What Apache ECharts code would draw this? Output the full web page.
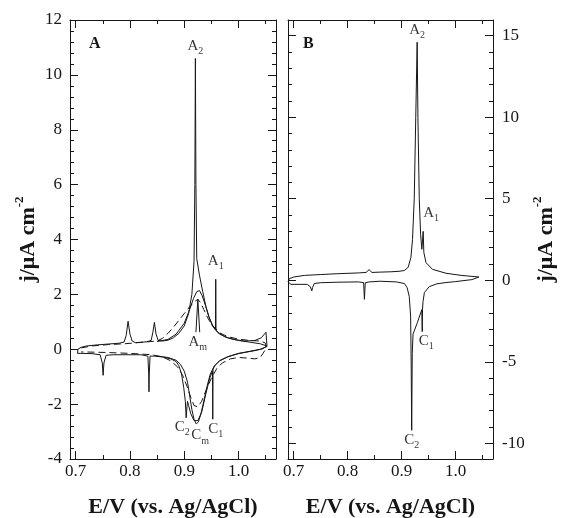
<!DOCTYPE html>
<html>
<head>
<meta charset="utf-8">
<script src="https://cdn.jsdelivr.net/npm/echarts@6/dist/echarts.min.js"></script>
<style>
html, body { margin: 0; padding: 0; background: #fff; }
#chart { width: 563px; height: 518px; }
</style>
</head>
<body>
<div id="chart"></div>
<script>
// ---- Tick positions ----
const xMajorTicks = [0.7, 0.8, 0.9, 1.0];
const xMinorTicks = [0.75, 0.85, 0.95, 1.05];
const bMajorTicks = [-10, -5, 0, 5, 10, 15];
const bMinorTicks = [-10, -9, -8, -7, -6, -5, -4, -3, -2, -1, 0, 1, 2, 3, 4, 5, 6, 7, 8, 9, 10, 11, 12, 13, 14, 15];

// ---- Panel A: voltammogram with sharp spikes (solid) ----
const aSharp = [
  [0.7035, -0.15], [0.704, 0.0], [0.71, 0.07], [0.72, 0.12], [0.74, 0.16], [0.76, 0.19], [0.78, 0.22],
  [0.789, 0.26], [0.793, 0.5], [0.7965, 1.02], [0.800, 0.55], [0.804, 0.3], [0.81, 0.24], [0.83, 0.27],
  [0.839, 0.32], [0.842, 0.6], [0.845, 0.98], [0.848, 0.55], [0.852, 0.32], [0.86, 0.3], [0.87, 0.33],
  [0.88, 0.42], [0.89, 0.58], [0.90, 0.85], [0.908, 1.3], [0.914, 2.0], [0.918, 3.2], [0.9195, 6],
  [0.9205, 10.6], [0.9215, 6], [0.923, 3.3], [0.928, 2.7], [0.934, 2.1], [0.94, 1.55], [0.946, 1.15],
  [0.952, 0.85], [0.9575, 0.7], [0.958, 2.55], [0.9585, 0.68], [0.965, 0.55], [0.98, 0.42], [1.0, 0.32],
  [1.02, 0.26], [1.04, 0.2], [1.052, 0.12],
  [1.045, 0.02], [1.03, -0.05], [1.0, -0.15], [0.98, -0.28], [0.965, -0.42], [0.957, -0.58],
  [0.953, -0.72], [0.9525, -2.55], [0.952, -0.8], [0.947, -1.05], [0.94, -1.6], [0.932, -2.3],
  [0.925, -2.6], [0.918, -2.6], [0.912, -2.35], [0.908, -2.05], [0.906, -1.9], [0.905, -2.1],
  [0.9035, -2.5], [0.902, -1.9], [0.899, -1.4], [0.895, -0.9], [0.89, -0.6], [0.885, -0.45],
  [0.875, -0.35], [0.86, -0.28], [0.845, -0.25], [0.837, -0.25], [0.8355, -0.9], [0.835, -1.55],
  [0.8345, -0.9], [0.833, -0.25], [0.82, -0.2], [0.80, -0.2], [0.77, -0.2], [0.756, -0.22],
  [0.752, -0.5], [0.7505, -0.95], [0.749, -0.5], [0.745, -0.2], [0.73, -0.16], [0.71, -0.15], [0.7035, -0.15]
];

// ---- Panel A: broad solid voltammogram (A_m / C_m) ----
const aBroad = [
  [0.85, 0.28], [0.87, 0.36], [0.885, 0.55], [0.90, 0.95], [0.91, 1.45], [0.917, 1.85], [0.923, 2.1],
  [0.928, 2.14], [0.933, 1.95], [0.939, 1.6], [0.945, 1.2], [0.952, 0.88], [0.962, 0.62], [0.975, 0.45],
  [0.99, 0.36], [1.01, 0.3], [1.03, 0.32], [1.042, 0.42], [1.0505, 0.62], [1.052, 0.66], [1.0525, 0.1],
  [1.04, 0.0], [1.02, -0.08], [1.0, -0.16], [0.98, -0.27], [0.965, -0.42], [0.955, -0.62],
  [0.948, -0.9], [0.942, -1.35], [0.936, -1.9], [0.93, -2.4], [0.926, -2.65], [0.922, -2.72],
  [0.918, -2.55], [0.914, -2.2], [0.91, -1.7], [0.906, -1.2], [0.90, -0.8], [0.893, -0.55],
  [0.885, -0.4], [0.87, -0.3], [0.85, -0.25]
];

// ---- Panel A: dashed voltammogram ----
const aDashed = [
  [0.71, 0.05], [0.73, 0.12], [0.76, 0.17], [0.79, 0.2], [0.82, 0.25], [0.85, 0.3], [0.86, 0.4],
  [0.87, 0.58], [0.88, 0.8], [0.89, 1.05], [0.90, 1.3], [0.91, 1.55], [0.918, 1.72], [0.925, 1.82],
  [0.93, 1.7], [0.936, 1.45], [0.943, 1.15], [0.952, 0.85], [0.965, 0.6], [0.98, 0.46], [1.0, 0.37],
  [1.02, 0.32], [1.04, 0.3], [1.05, 0.22],
  [1.05, 0.0], [1.045, -0.15], [1.04, -0.3], [1.03, -0.35], [1.015, -0.32], [1.0, -0.3],
  [0.985, -0.35], [0.97, -0.5], [0.96, -0.7], [0.95, -1.05], [0.94, -1.5], [0.932, -1.9],
  [0.925, -2.1], [0.918, -2.05], [0.912, -1.75], [0.905, -1.35], [0.897, -0.95], [0.888, -0.65],
  [0.875, -0.42], [0.86, -0.28], [0.84, -0.2], [0.80, -0.15], [0.76, -0.12], [0.72, -0.1], [0.71, -0.1]
];

// ---- Panel A: peak markers ----
const aPeaks = [
  { name: 'A2', value: [0.9205, 10.6], side: 'top' },
  { name: 'A1', value: [0.958, 2.55], side: 'top' },
  { name: 'Am', value: [0.925, 0.62], side: 'bottom' },
  { name: 'C2', value: [0.9035, -2.5], side: 'bottom' },
  { name: 'Cm', value: [0.922, -2.72], side: 'bottom' },
  { name: 'C1', value: [0.9525, -2.55], side: 'bottom' }
];
// pointer from the A_m label up to the dashed peak
const amPointer = [[0.9215, 0.62], [0.925, 1.82], [0.9285, 0.62]];

// ---- Panel B: voltammogram ----
const bCurve = [
  [0.6895, -0.1], [0.692, 0.1], [0.70, 0.2], [0.72, 0.3], [0.75, 0.35], [0.78, 0.4], [0.82, 0.45],
  [0.834, 0.48], [0.8395, 0.65], [0.845, 0.48], [0.86, 0.5], [0.88, 0.52], [0.895, 0.55], [0.905, 0.6],
  [0.912, 0.8], [0.917, 1.4], [0.92, 2.5], [0.9232, 5], [0.926, 10], [0.9286, 14.6], [0.930, 10],
  [0.9325, 5], [0.935, 2.8], [0.9373, 1.9], [0.9385, 2.4], [0.9397, 3.0], [0.941, 1.7], [0.945, 1.08],
  [0.957, 0.67], [0.982, 0.43], [1.01, 0.3], [1.043, 0.2],
  [1.03, 0.04], [1.0, -0.08], [0.982, -0.14], [0.965, -0.22], [0.951, -0.39], [0.942, -0.75],
  [0.9395, -1.3], [0.9385, -1.78], [0.938, -3.15], [0.9372, -1.8], [0.929, -2.6], [0.921, -3.3],
  [0.9195, -4.5], [0.9185, -9.2], [0.9175, -5], [0.9165, -2.2], [0.914, -1.0], [0.91, -0.45],
  [0.905, -0.2], [0.89, -0.1], [0.86, -0.06], [0.84, -0.1], [0.8325, -0.15], [0.831, -1.17],
  [0.8295, -0.15], [0.82, -0.1], [0.78, -0.12], [0.75, -0.15], [0.738, -0.2], [0.735, -0.45],
  [0.7335, -0.65], [0.731, -0.4], [0.725, -0.25], [0.71, -0.25], [0.695, -0.25], [0.6895, -0.1]
];
const bPeaks = [
  { name: 'A2', value: [0.9286, 14.6], side: 'top' },
  { name: 'A1', value: [0.9397, 3.0], side: 'top' },
  { name: 'C1', value: [0.938, -3.15], side: 'bottom' },
  { name: 'C2', value: [0.9185, -9.2], side: 'bottom' }
];

const SERIF = '"Liberation Serif", "DejaVu Serif", serif';
const INK = '#161616';
const X_MIN = 0.6895, X_MAX = 1.069;

function xAxisSet(gridIndex, withLabel) {
  const base = { type: 'value', gridIndex, min: X_MIN, max: X_MAX, splitLine: { show: false } };
  const line = { show: true, onZero: false, lineStyle: { color: INK, width: 1 } };
  const major = {
    ...base, position: 'bottom', axisLine: line,
    axisTick: { show: true, inside: true, length: 8, customValues: xMajorTicks, lineStyle: { color: INK } },
    axisLabel: {
      show: withLabel, customValues: xMajorTicks, margin: 4,
      formatter: v => v.toFixed(1), fontFamily: SERIF, fontSize: 17, color: INK
    }
  };
  if (withLabel) {
    Object.assign(major, {
      name: 'E/V (vs. Ag/AgCl)', nameLocation: 'middle', nameGap: 37,
      nameTextStyle: { fontFamily: SERIF, fontSize: 22, fontWeight: 'bold', color: INK }
    });
  }
  const minor = {
    ...base, position: 'bottom', axisLine: { show: false, onZero: false },
    axisTick: { show: true, inside: true, length: 4, customValues: xMinorTicks, lineStyle: { color: INK } },
    axisLabel: { show: false, customValues: xMinorTicks }
  };
  const topMajor = { ...major, position: 'top', name: '', axisLabel: { show: false, customValues: xMajorTicks } };
  const topMinor = { ...minor, position: 'top' };
  return [major, minor, topMajor, topMinor];
}

const yName = {
  name: '{b|j/μA cm}{sup|-2}', nameLocation: 'middle', nameRotate: 90,
  nameTextStyle: {
    color: INK,
    rich: {
      b: { fontFamily: SERIF, fontSize: 22, fontWeight: 'bold', lineHeight: 26, verticalAlign: 'bottom', color: INK },
      sup: { fontFamily: SERIF, fontSize: 13, fontWeight: 'bold', lineHeight: 26, verticalAlign: 'top', color: INK }
    }
  }
};

const yAxes = [
  {
    type: 'value', gridIndex: 0, position: 'left', min: -4, max: 12, interval: 2,
    splitLine: { show: false },
    axisLine: { show: true, onZero: false, lineStyle: { color: INK } },
    axisTick: { inside: true, length: 8, lineStyle: { color: INK } },
    minorTick: { show: true, splitNumber: 5, length: 4, lineStyle: { color: INK } },
    axisLabel: { fontFamily: SERIF, fontSize: 17, color: INK, margin: 8 },
    ...yName, nameGap: 31
  },
  {
    type: 'value', gridIndex: 0, position: 'right', min: -4, max: 12, interval: 2,
    splitLine: { show: false },
    axisLine: { show: true, onZero: false, lineStyle: { color: INK } },
    axisTick: { inside: true, length: 8, lineStyle: { color: INK } },
    minorTick: { show: true, splitNumber: 5, length: 4, lineStyle: { color: INK } },
    axisLabel: { show: false }
  }
];
const B_MIN = -10.96, B_MAX = 15.96;
['left', 'right'].forEach(pos => {
  const major = {
    type: 'value', gridIndex: 1, position: pos, min: B_MIN, max: B_MAX, splitLine: { show: false },
    axisLine: { show: true, onZero: false, lineStyle: { color: INK } },
    axisTick: { inside: true, length: 8, customValues: bMajorTicks, lineStyle: { color: INK } },
    axisLabel: {
      show: pos === 'right', customValues: bMajorTicks, fontFamily: SERIF, fontSize: 17, color: INK, margin: 9
    }
  };
  if (pos === 'right') Object.assign(major, yName, { nameGap: 38 });
  const minor = {
    type: 'value', gridIndex: 1, position: pos, min: B_MIN, max: B_MAX, splitLine: { show: false },
    axisLine: { show: false, onZero: false },
    axisTick: { inside: true, length: 4, customValues: bMinorTicks, lineStyle: { color: INK } },
    axisLabel: { show: false, customValues: bMinorTicks }
  };
  yAxes.push(major, minor);
});
// yAxes: 0,1 panel A; 2 (B left major), 3 (B left minor), 4 (B right major), 5 (B right minor)

const peakRich = {
  a: { fontFamily: SERIF, fontSize: 15, color: '#000', lineHeight: 18, verticalAlign: 'top' },
  s: { fontFamily: SERIF, fontSize: 10, color: '#000', lineHeight: 18, verticalAlign: 'bottom' }
};
function peakSeries(list, xIdx, yIdx, offsets) {
  return {
    type: 'scatter', xAxisIndex: xIdx, yAxisIndex: yIdx, symbolSize: 0, silent: true, z: 5,
    data: list.map(p => ({
      value: p.value,
      label: {
        show: true, position: p.side, distance: 2, offset: offsets[p.name] || [0, 0], color: '#000',
        formatter: '{a|' + p.name[0] + '}{s|' + p.name.slice(1) + '}', rich: peakRich
      }
    }))
  };
}

function curve(data, xIdx, yIdx, dashed) {
  return {
    type: 'line', xAxisIndex: xIdx, yAxisIndex: yIdx, data, showSymbol: false, silent: true,
    animation: false, clip: true,
    lineStyle: { color: INK, width: 1, type: dashed ? [7, 4] : 'solid' }
  };
}

const chart = echarts.init(document.getElementById('chart'), null, { renderer: 'canvas' });
chart.setOption({
  animation: false,
  backgroundColor: '#fff',
  grid: [
    { left: 70, top: 20, width: 206, height: 439, containLabel: false, outerBoundsMode: 'none' },
    { left: 288, top: 20, width: 205, height: 439, containLabel: false, outerBoundsMode: 'none' }
  ],
  xAxis: [...xAxisSet(0, true), ...xAxisSet(1, true)],
  yAxis: yAxes,
  graphic: [
    { type: 'text', left: 89, top: 36, style: { text: 'A', font: 'bold 16px ' + SERIF, fill: INK } },
    { type: 'text', left: 303, top: 36, style: { text: 'B', font: 'bold 16px ' + SERIF, fill: INK } }
  ],
  series: [
    curve(aSharp, 0, 0, false),
    curve(aBroad, 0, 0, false),
    curve(aDashed, 0, 0, true),
    curve(amPointer, 0, 0, false),
    peakSeries(aPeaks, 0, 0, { A1: [0, -6], C1: [3, 0], C2: [-4, 0], Cm: [4, 2] }),
    curve(bCurve, 4, 4, false),
    peakSeries(bPeaks, 4, 4, { A1: [8, -6], C1: [4, 0] })
  ]
});
</script>
</body>
</html>
